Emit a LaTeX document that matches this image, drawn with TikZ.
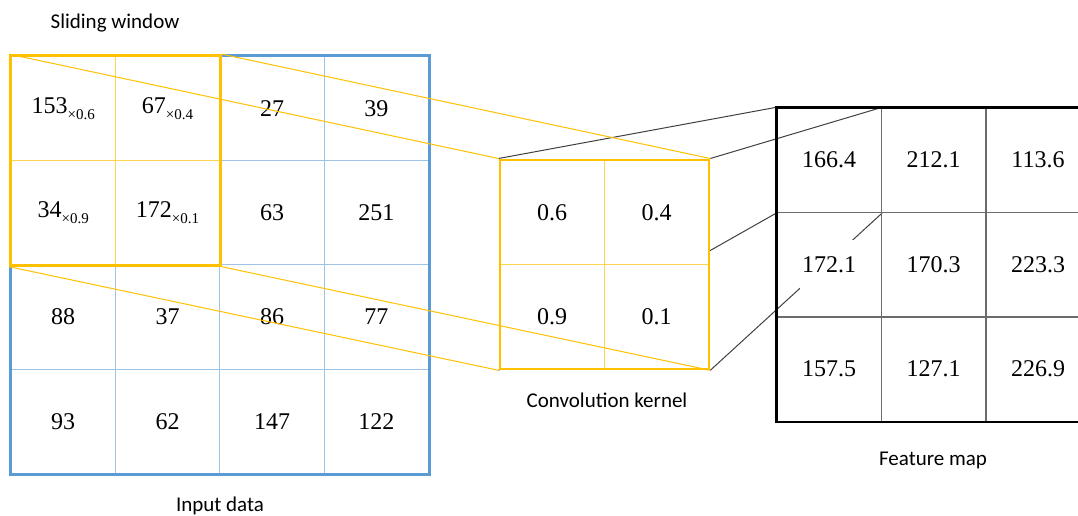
\documentclass[tikz,border=0pt]{standalone}
\usepackage{fontspec}
\setmainfont{Liberation Serif}
\newfontfamily\beschrift{Carlito}
\usetikzlibrary{fit,backgrounds}
\definecolor{gelb}{HTML}{FFC000}
\definecolor{gelbl}{HTML}{FFD54F}
\definecolor{blau}{HTML}{5B9BD5}
\definecolor{blaul}{HTML}{9DC3E6}
\definecolor{dgrau}{HTML}{404040}
\definecolor{mgrau}{HTML}{6B6B6B}
\newcommand\fak[1]{\raisebox{-3pt}{\fontsize{7.5}{9}\selectfont ×#1}}
\tikzset{
  zelle/.style={minimum width=52.2pt,minimum height=52.2pt,inner sep=0pt,font=\fontsize{12}{14}\selectfont},
  zin/.style={zelle,draw=blaul,line width=0.5pt},
  zkern/.style={zelle,draw=gelbl,line width=0.5pt,fill=white},
  zmap/.style={zelle,draw=mgrau,line width=0.7pt},
  wert/.style={fill=white,inner xsep=1pt,inner ysep=0pt,minimum height=25pt,font=\fontsize{12}{14}\selectfont},
  rahmen/.style={inner sep=0pt},
  proj/.style={gelb,line width=0.5pt},
  projs/.style={dgrau,line width=0.5pt},
  titel/.style={font=\beschrift\fontsize{10.5}{12}\selectfont},
}
\begin{document}
\begin{tikzpicture}[x=0.5pt,y=-0.5pt]
  \useasboundingbox (0,0) rectangle (1078,515);
  % input data
  \foreach \zeile [count=\r] in {{153\fak{0.6},67\fak{0.4},27,39},{34\fak{0.9},172\fak{0.1},63,251},{88,37,86,77},{93,62,147,122}}{
    \foreach \wert [count=\c] in \zeile {
      \node[zin] (in-\r-\c) at ({11+104.4*(\c-0.5)},{56+104.4*(\r-0.5)}) {\wert};
    }
  }
  \draw[gelbl,line width=0.5pt] (in-1-1.north east) -- (in-2-1.south east);
  \draw[gelbl,line width=0.5pt] (in-1-1.south west) -- (in-1-2.south east);
  \node[rahmen,draw=blau,line width=1.5pt,fit=(in-1-1)(in-4-4)] (input) {};
  \node[rahmen,draw=gelb,line width=1.4pt,fit=(in-1-1)(in-2-2)] (win) {};
  % kernel
  \foreach \zeile [count=\r] in {{0.6,0.4},{0.9,0.1}}{
    \foreach \wert [count=\c] in \zeile {
      \node[zkern] (k-\r-\c) at ({500+104.4*(\c-0.5)},{160+104.4*(\r-0.5)}) {\wert};
    }
  }
  \node[rahmen,draw=gelb,line width=1pt,fit=(k-1-1)(k-2-2)] (kern) {};
  % feature map
  \foreach \zeile [count=\r] in {{166.4,212.1,113.6},{172.1,170.3,223.3},{157.5,127.1,226.9}}{
    \foreach \wert [count=\c] in \zeile {
      \node[zmap] (f-\r-\c) at ({777+104.4*(\c-0.5)},{108+104.4*(\r-0.5)}) {};
      \node[wert] (fw-\r-\c) at (f-\r-\c) {\wert};
    }
  }
  \node[rahmen,draw=black,line width=1.2pt,fit=(f-1-1)(f-3-3)] (fmap) {};
  % projections
  \draw[proj] (win.north west) -- (kern.north west);
  \draw[proj] (win.north east) -- (kern.north east);
  \draw[proj] (win.south west) -- (kern.south west);
  \draw[proj] (win.south east) -- (kern.south east);
  \begin{scope}[on background layer]
    \draw[projs] (kern.north west) -- (f-1-1.north west);
    \draw[projs] (kern.north east) -- (f-1-1.north east);
    \draw[projs] (kern.south west) -- (f-1-1.south west);
    \draw[projs] (kern.south east) -- (f-1-1.south east);
  \end{scope}
  % labels
  \node[titel] (tsw) at (115,23) {Sliding window};
  \node[titel] (tin) at (220,506) {Input data};
  \node[titel] (tk) at (607,400) {Convolution kernel};
  \node[titel] (tf) at (933,460) {Feature map};
\end{tikzpicture}
\end{document}
